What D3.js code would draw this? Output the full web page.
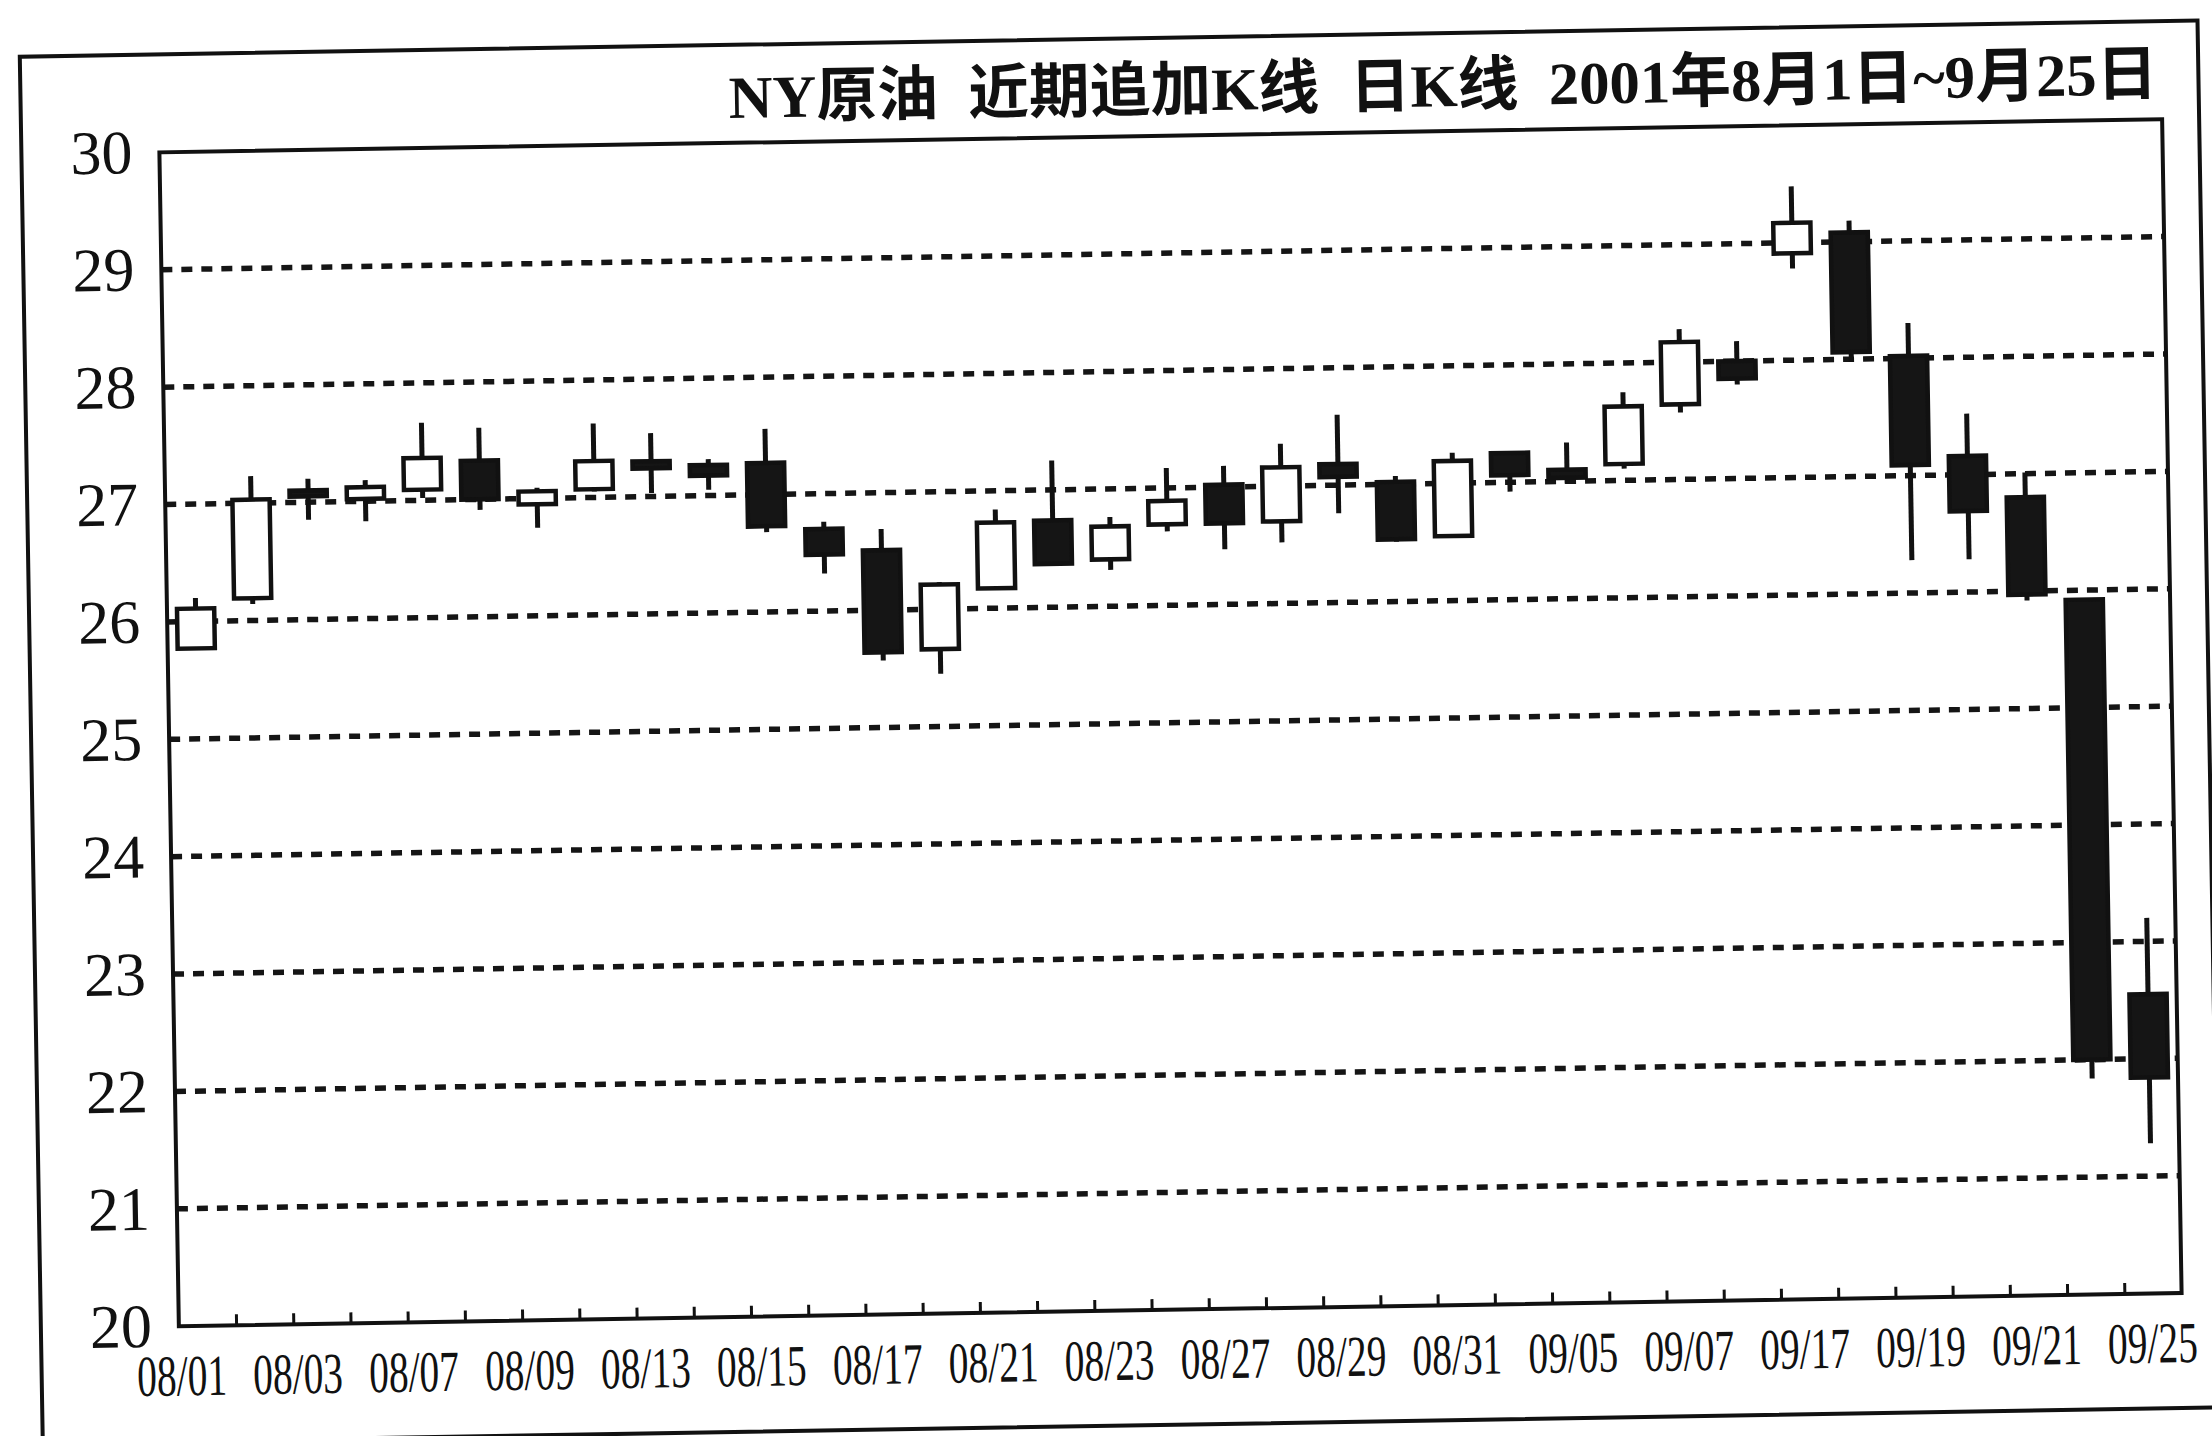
<!DOCTYPE html>
<html><head><meta charset="utf-8">
<script src="https://cdn.jsdelivr.net/npm/d3@7"></script>
<style>html,body{margin:0;padding:0;background:#fff;} svg{display:block;}</style>
</head><body>
<svg id="chart" width="2212" height="1436"></svg>
<script>
// ---- data ----
const dates = ["08/01","08/02","08/03","08/06","08/07","08/08","08/09","08/10","08/13","08/14",
  "08/15","08/16","08/17","08/20","08/21","08/22","08/23","08/24","08/27","08/28",
  "08/29","08/30","08/31","09/04","09/05","09/06","09/07","09/10","09/17","09/18",
  "09/19","09/20","09/21","09/24","09/25"];
const openP  = [25.77,26.19,27.10,27.02,27.09,27.33,26.95,27.07,27.30,27.26,
  27.27,26.70,26.51,25.66,26.17,26.74,26.40,26.69,27.02,26.70,
  27.18,27.02,26.55,27.25,27.10,27.14,27.64,28.00,28.91,29.08,
  28.02,27.16,26.80,25.92,22.55];
const highP  = [26.20,27.23,27.20,27.18,27.66,27.61,27.09,27.63,27.54,27.31,
  27.56,26.76,26.69,26.23,26.84,27.25,26.76,27.17,27.18,27.36,
  27.60,27.07,27.26,27.26,27.33,27.75,28.28,28.17,29.48,29.18,
  28.30,27.52,27.01,25.93,23.20];
const lowP   = [25.77,26.14,26.85,26.83,27.02,26.91,26.75,27.05,27.03,27.05,
  26.68,26.32,25.57,25.45,26.16,26.36,26.31,26.63,26.47,26.52,
  26.76,26.51,26.55,26.92,26.98,27.10,27.57,27.80,28.78,27.98,
  26.28,26.28,25.92,21.84,21.28];
const closeP = [26.11,27.03,27.05,27.12,27.36,27.00,27.06,27.31,27.24,27.17,
  26.73,26.48,25.64,26.21,26.73,26.37,26.68,26.89,26.69,27.16,
  27.07,26.53,27.19,27.06,27.03,27.63,28.17,27.85,29.17,28.06,
  27.09,26.69,25.97,22.00,21.84];
const xLabels = ["08/01","08/03","08/07","08/09","08/13","08/15","08/17","08/21","08/23",
  "08/27","08/29","08/31","09/05","09/07","09/17","09/19","09/21","09/25"];
const yTicks = [20,21,22,23,24,25,26,27,28,29,30];
const gridValues = [21,22,23,24,25,26,27,28,29];
const titleText = "NY原油  近期追加K线  日K线  2001年8月1日~9月25日";

// ---- layout ----
const W = 2212, H = 1436;
const plotW = 2003, plotH = 1174;
const svg = d3.select("#chart");
svg.append("rect").attr("width", W).attr("height", H).attr("fill", "#fff");
const g = svg.append("g").attr("transform", "translate(159.4,152.4) rotate(-0.95)");

const x = d3.scaleBand().domain(dates).range([0, plotW]).padding(0);
const y = d3.scaleLinear().domain([20, 30]).range([plotH, 0]);
const xBound = d3.scaleLinear().domain([0, dates.length]).range([0, plotW]);
const xLab = d3.scalePoint().domain(xLabels).range([2, 1973]);

// outer frame
g.append("rect").attr("x", -138).attr("y", -98).attr("width", 2178).attr("height", 1387)
  .attr("fill", "none").attr("stroke", "#111").attr("stroke-width", 4);

// title
g.append("text").text(titleText)
  .attr("x", 1999).attr("y", -25)
  .attr("text-anchor", "end")
  .attr("textLength", 1429).attr("lengthAdjust", "spacingAndGlyphs")
  .style("white-space", "pre")
  .attr("font-family", "'Liberation Serif','Noto Sans CJK SC',serif")
  .attr("font-weight", "bold").attr("font-size", 60).attr("fill", "#111");

// gridlines
g.append("g").selectAll("line").data(gridValues).join("line")
  .attr("x1", 0).attr("x2", plotW)
  .attr("y1", d => y(d)).attr("y2", d => y(d))
  .attr("stroke", "#151515").attr("stroke-width", 5.5).attr("stroke-dasharray", "11,9");

// y axis labels
const yAxis = g.append("g").call(d3.axisLeft(y).tickValues(yTicks).tickSize(0).tickPadding(27).tickFormat(d3.format("d")));
yAxis.select(".domain").remove();
yAxis.selectAll("text").attr("font-family", "'Liberation Serif',serif").attr("font-size", 62).attr("fill", "#111");

// x axis ticks (at boundaries, pointing inward)
const xTickAxis = g.append("g").attr("transform", `translate(0,${plotH})`)
  .call(d3.axisBottom(xBound).tickValues(d3.range(1, dates.length)).tickSize(-11).tickFormat(""));
xTickAxis.select(".domain").remove();
xTickAxis.selectAll("line").attr("stroke", "#111").attr("stroke-width", 3);

// x labels (condensed)
const xLabAxis = g.append("g").attr("transform", `translate(0,${plotH})`)
  .call(d3.axisBottom(xLab).tickSize(0).tickPadding(28));
xLabAxis.select(".domain").remove();
xLabAxis.selectAll("text")
  .attr("font-family", "'Liberation Serif',serif").attr("font-size", 58).attr("fill", "#111")
  .attr("transform", "scale(0.68,1)");

// candles
const bw = x.bandwidth() * 0.72;
const cg = g.append("g");
const cd = dates.map((d, i) => ({d, o: openP[i], h: highP[i], l: lowP[i], c: closeP[i]}));
cg.selectAll("line.wick").data(cd).join("line").attr("class", "wick")
  .attr("x1", d => x(d.d) + x.bandwidth() / 2).attr("x2", d => x(d.d) + x.bandwidth() / 2)
  .attr("y1", d => y(d.h)).attr("y2", d => y(d.l))
  .attr("stroke", "#111").attr("stroke-width", 5);
cg.selectAll("rect.body").data(cd).join("rect").attr("class", "body")
  .attr("x", d => x(d.d) + (x.bandwidth() - bw) / 2 + 2)
  .attr("width", bw - 4)
  .attr("y", d => y(Math.max(d.o, d.c)))
  .attr("height", d => Math.max(6, Math.abs(y(d.o) - y(d.c))))
  .attr("fill", d => d.c >= d.o ? "#fff" : "#151515")
  .attr("stroke", "#111").attr("stroke-width", 4.5);

// plot border
g.append("rect").attr("x", 0).attr("y", 0).attr("width", plotW).attr("height", plotH)
  .attr("fill", "none").attr("stroke", "#111").attr("stroke-width", 4);
</script>
</body></html>
